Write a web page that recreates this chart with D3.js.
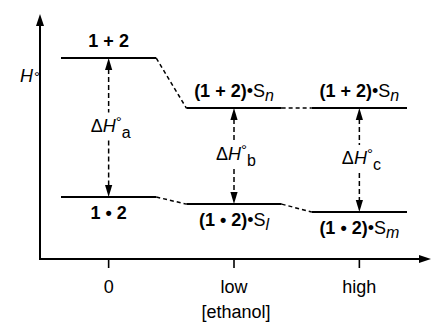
<!DOCTYPE html>
<html>
<head>
<meta charset="utf-8">
<script src="https://cdn.jsdelivr.net/npm/d3@7"></script>
<style>
body { margin: 0; background: #fff; }
svg { display: block; font-family: "Liberation Sans", Arial, Helvetica, sans-serif; }
</style>
</head>
<body>
<div id="chart"></div>
<script>
// ethanol concentration categories
const conditions = ['0', 'low', 'high']
// enthalpy levels (arbitrary units) of free 1 + 2 and of the complex 1 • 2
const freeH = [82, 61.6, 61.6]
const complexH = [25.3, 22.4, 19.2]
// level labels
const freeBold = ['1 + 2', '(1 + 2)', '(1 + 2)']
const freeSub = ['', 'n', 'n']
const complexBold = ['1 • 2', '(1 • 2)', '(1 • 2)']
const complexSub = ['', 'l', 'm']
const deltaSub = ['a', 'b', 'c']

const width = 432, height = 323
const originX = 40

let svg = d3.select('#chart').append('svg')
.attr('width', width)
.attr('height', height)

let x = d3.scaleBand()
.domain(conditions)
.range([61, 407])
.paddingInner(0.24)

let y = d3.scaleLinear()
.domain([0, 100])
.range([259, 14])

const bw = x.bandwidth()
const cx = c => x(c) + bw / 2

// arrow head as a filled triangle, tip at (tx, ty)
const head = (tx, ty, dx, dy, len, half) => {
	let bx = tx - dx * len, by = ty - dy * len
	return `M${tx},${ty}L${bx - dy * half},${by + dx * half}L${bx + dy * half},${by - dx * half}Z`
}

// axes
let xAxis = svg.append('g')
.attr('transform', `translate(0,${y(0)})`)
.call(d3.axisBottom(x).tickSize(9).tickPadding(12).tickSizeOuter(0))

xAxis.select('.domain').remove()
xAxis.selectAll('.tick')
.attr('transform', d => `translate(${cx(d)},0)`)
xAxis.selectAll('.tick line').attr('stroke', '#000').attr('stroke-width', 1.6)
xAxis.selectAll('.tick text')
.attr('fill', '#000')
.style('font-size', '18px')
.style('font-family', 'inherit')

svg.append('path')
.attr('d', `M${originX},${y(100) + 8}V${y(0)}H${width - 8}`)
.attr('fill', 'none')
.attr('stroke', '#000')
.attr('stroke-width', 2)

svg.append('path')
.attr('d', head(originX, y(100), 0, -1, 12, 4))
svg.append('path')
.attr('d', head(width - 1, y(0), 1, 0, 12, 4))

svg.append('text')
.attr('x', (originX + width) / 2)
.attr('y', 318)
.attr('text-anchor', 'middle')
.style('font-size', '18px')
.text('[ethanol]')

let hLabel = svg.append('text')
.attr('x', 20)
.attr('y', 82)
.style('font-size', '18px')
hLabel.append('tspan').style('font-style', 'italic').text('H')
hLabel.append('tspan').attr('dx', 1).style('font-size', '15px').text('°')

// energy levels
let levels = svg.append('g')
.attr('stroke', '#000')
.attr('stroke-width', 2)

conditions.forEach((c, i) => {
	levels.append('line')
	.attr('x1', x(c)).attr('x2', x(c) + bw)
	.attr('y1', y(freeH[i])).attr('y2', y(freeH[i]))
	levels.append('line')
	.attr('x1', x(c)).attr('x2', x(c) + bw)
	.attr('y1', y(complexH[i])).attr('y2', y(complexH[i]))
})

// dashed connectors between neighbouring levels
let links = svg.append('g')
.attr('stroke', '#000')
.attr('stroke-width', 1.5)
.attr('stroke-dasharray', '4,3')

d3.pairs(d3.range(conditions.length)).forEach(([a, b]) => {
	[freeH, complexH].forEach(h => {
		links.append('line')
		.attr('x1', x(conditions[a]) + bw).attr('y1', y(h[a]))
		.attr('x2', x(conditions[b])).attr('y2', y(h[b]))
	})
})

// double arrows with delta H labels
conditions.forEach((c, i) => {
	let px = cx(c)
	let top = y(freeH[i]), bottom = y(complexH[i])
	let ly = (top + bottom) / 2 + 4

	svg.append('path')
	.attr('d', `M${px},${top + 11}V${ly - 19}M${px},${ly + 9}V${bottom - 11}`)
	.attr('stroke', '#000')
	.attr('stroke-width', 1.5)
	.attr('stroke-dasharray', '5,3')
	svg.append('path').attr('d', head(px, top, 0, -1, 12, 3.6))
	svg.append('path').attr('d', head(px, bottom, 0, 1, 12, 3.6))

	let t = svg.append('text')
	.attr('x', px + 2)
	.attr('y', ly)
	.attr('text-anchor', 'middle')
	.style('font-size', '18px')
	t.append('tspan').text('Δ')
	t.append('tspan').style('font-style', 'italic').text('H')
	t.append('tspan').attr('dy', -5).style('font-size', '15px').text('°')
	t.append('tspan').attr('dy', 11).style('font-size', '16px').text(deltaSub[i])

	// level labels
	let f = svg.append('text')
	.attr('x', px)
	.attr('y', top - 11)
	.attr('text-anchor', 'middle')
	.style('font-size', '18px')
	f.append('tspan').style('font-weight', 'bold').text(freeBold[i])
	if (freeSub[i]) {
		f.append('tspan').text('•S')
		f.append('tspan').attr('dy', 4).style('font-style', 'italic').style('font-size', '16px').text(freeSub[i])
	}

	let g = svg.append('text')
	.attr('x', px)
	.attr('y', bottom + 22)
	.attr('text-anchor', 'middle')
	.style('font-size', '18px')
	g.append('tspan').style('font-weight', 'bold').text(complexBold[i])
	if (complexSub[i]) {
		g.append('tspan').text('•S')
		g.append('tspan').attr('dy', 4).style('font-style', 'italic').style('font-size', '16px').text(complexSub[i])
	}
})
</script>
</body>
</html>
